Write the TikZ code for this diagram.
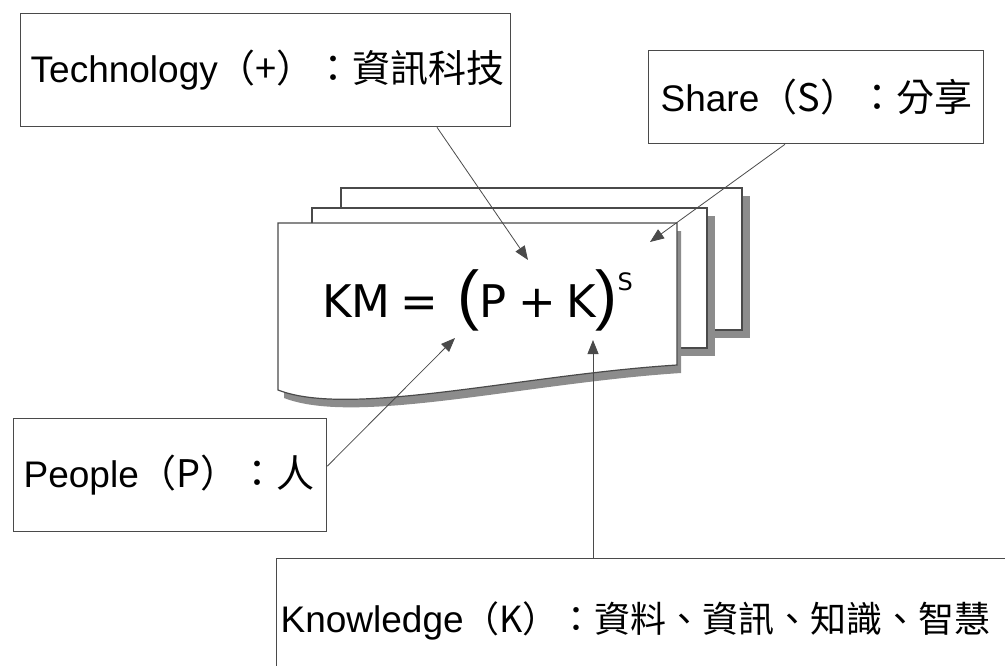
\documentclass[tikz,border=0pt]{standalone}
\usepackage{fontspec}
\setmainfont{Liberation Sans}
\newfontfamily\cjk{Noto Sans CJK TC}
\newfontfamily\formfont{DejaVu Sans}
\usetikzlibrary{arrows.meta}
\definecolor{edgegray}{HTML}{4A4A4A}
\definecolor{shadowgray}{HTML}{8C8C8C}
\newcommand{\cjkpart}[2][38]{{\cjk\fontsize{#1}{40}\selectfont #2}}
\newcommand{\thinparen}[1]{{\fontspec{Liberation Sans}\fontsize{66}{66}\selectfont #1}}
\tikzset{
	labelbox/.style = {draw = edgegray, line width = 1.3pt, anchor = north west, align = left,
		inner ysep = 0pt, font = \fontsize{37}{40}\selectfont},
	pointer/.style = {draw = edgegray, line width = 0.8pt, -{Triangle[length = 14pt, width = 11pt]}},
	sheet/.style = {draw = edgegray, line width = 1.2pt, fill = white},
	sheetshadow/.style = {fill = shadowgray, draw = none}
}
\begin{document}
\begin{tikzpicture}[x = 1pt, y = -1pt]
	\useasboundingbox (0,0) rectangle (1005,665);
	% stacked sheets
	\fill [sheetshadow] (349,196) rectangle (750,338);
	\draw [sheet] (341,188) rectangle (742,330);
	\fill [sheetshadow] (320,216) rectangle (715,356);
	\draw [sheet] (312,208) rectangle (707,348);
	\fill [sheetshadow] (284,231) -- (681,231) -- (681,373) .. controls (526,383) and (356,426) .. (284,398) -- cycle;
	\draw [sheet] (278,223) -- (677,223) -- (677,365) .. controls (520,375) and (350,418) .. (278,390) -- cycle;
	\node [anchor = base west, inner sep = 0pt, font = \formfont\fontsize{45}{50}\selectfont] (km) at (322,317)
		{KM\hspace{10pt}=\hspace{19pt}\thinparen{(}P\hspace{12pt}+\hspace{10pt}K\thinparen{)}\raisebox{27pt}{\fontsize{24}{24}\selectfont S}};
	% labels
	\node [labelbox, minimum width = 490pt, minimum height = 113pt, text width = 470pt, inner xsep = 10pt] (tech) at (20,13)
		{Technology\cjkpart{（+）：資訊科技}};
	\node [labelbox, minimum width = 335pt, minimum height = 93pt, text width = 311pt, inner xsep = 12pt] (share) at (648,50)
		{Share\cjkpart{（S）：分享}};
	\node [labelbox, minimum width = 313pt, minimum height = 113pt, text width = 293pt, inner xsep = 10pt] (people) at (13,418)
		{People\cjkpart{（P）：人}};
	\node [labelbox, minimum width = 800pt, minimum height = 125pt, text width = 792pt, inner xsep = 4pt] (know) at (276,558)
		{Knowledge\cjkpart[36]{（K）：資料、資訊、知識、智慧}};
	% pointers
	\coordinate (tipT) at (528,260);
	\coordinate (tipS) at (650,242);
	\coordinate (tipP) at (455,338);
	\coordinate (tipK) at (593,340);
	\draw [pointer] ([xshift = 417pt]tech.south west) -- (tipT);
	\draw [pointer] ([xshift = 137pt]share.south west) -- (tipS);
	\draw [pointer] ([yshift = 9pt]people.east) -- (tipP);
	\draw [pointer] ([xshift = 317pt]know.north west) -- (tipK);
\end{tikzpicture}
\end{document}
